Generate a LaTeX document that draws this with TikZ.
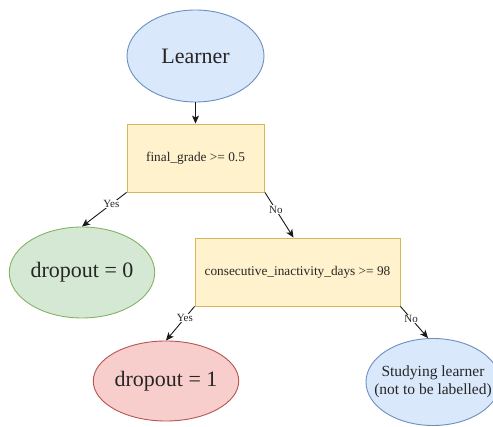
\documentclass[tikz,border=0pt]{standalone}
\usepackage{fontspec}
\setmainfont{Liberation Serif}
\usetikzlibrary{shapes.geometric,arrows.meta}

\definecolor{bluefill}{HTML}{DAE8FC}\definecolor{bluedraw}{HTML}{6C8EBF}
\definecolor{yelfill}{HTML}{FFF2CC}\definecolor{yeldraw}{HTML}{D6B656}
\definecolor{grnfill}{HTML}{D5E8D4}\definecolor{grndraw}{HTML}{82B366}
\definecolor{redfill}{HTML}{F8CECC}\definecolor{reddraw}{HTML}{B85450}

\tikzset{
  leaf/.style={ellipse, draw, line width=0.9pt, inner sep=0pt, text=black!85},
  test/.style={rectangle, draw=yeldraw, fill=yelfill, line width=0.9pt,
    inner sep=0pt, text=black!85, font=\fontsize{13.3}{15}\selectfont},
  edge/.style={draw=black!90, line width=0.9pt,
    -{Stealth[length=8pt,width=7pt,inset=2pt]}},
  tag/.style={fill=white, inner sep=0.6pt, text=black!85,
    font=\fontsize{11}{12}\selectfont}
}

\begin{document}
\begin{tikzpicture}[x=1pt,y=-1pt]
  \useasboundingbox (0,0) rectangle (493,427);

  \node[leaf, draw=bluedraw, fill=bluefill, minimum width=137, minimum height=92,
        font=\fontsize{22}{24}\selectfont] (learner) at (195.5,56) {Learner};

  \node[test, minimum width=137, minimum height=68] (q1) at (195.5,158)
        {final\_grade >= 0.5};

  \node[leaf, draw=grndraw, fill=grnfill, minimum width=138, minimum height=91,
        font=\fontsize{22}{24}\selectfont] (d0) at (82,272.5) {dropout = 0};

  \node[test, minimum width=205, minimum height=68] (q2) at (297.5,272)
        {consecutive\_inactivity\_days >= 98};

  \node[leaf, draw=reddraw, fill=redfill, minimum width=138, minimum height=80,
        font=\fontsize{22}{24}\selectfont] (d1) at (166,381) {dropout = 1};

  % the text is wider than this ellipse, so it is set on top of it
  \node[leaf, draw=bluedraw, fill=bluefill, minimum width=134, minimum height=87]
        (study) at (433,382) {};
  \node[align=center, inner sep=0pt, text=black!85,
        font=\fontsize{15.5}{18}\selectfont] (studytext) at (study.center)
        {Studying learner\\(not to be labelled)};

  \draw[edge] (learner) -- (q1);
  \draw[edge] (q1.south west) -- node[tag, pos=0.34] {Yes} (d0.north);
  \draw[edge] ([xshift=0.5pt]q1.south east) -- node[tag, pos=0.38] {No} ([xshift=-4pt]q2.north);
  \draw[edge] (q2.south west) -- node[tag, pos=0.34] {Yes} (d1.north);
  \draw[edge] (q2.south east) -- node[tag, pos=0.39] {No} ([xshift=-5pt]study.north);
\end{tikzpicture}
\end{document}
